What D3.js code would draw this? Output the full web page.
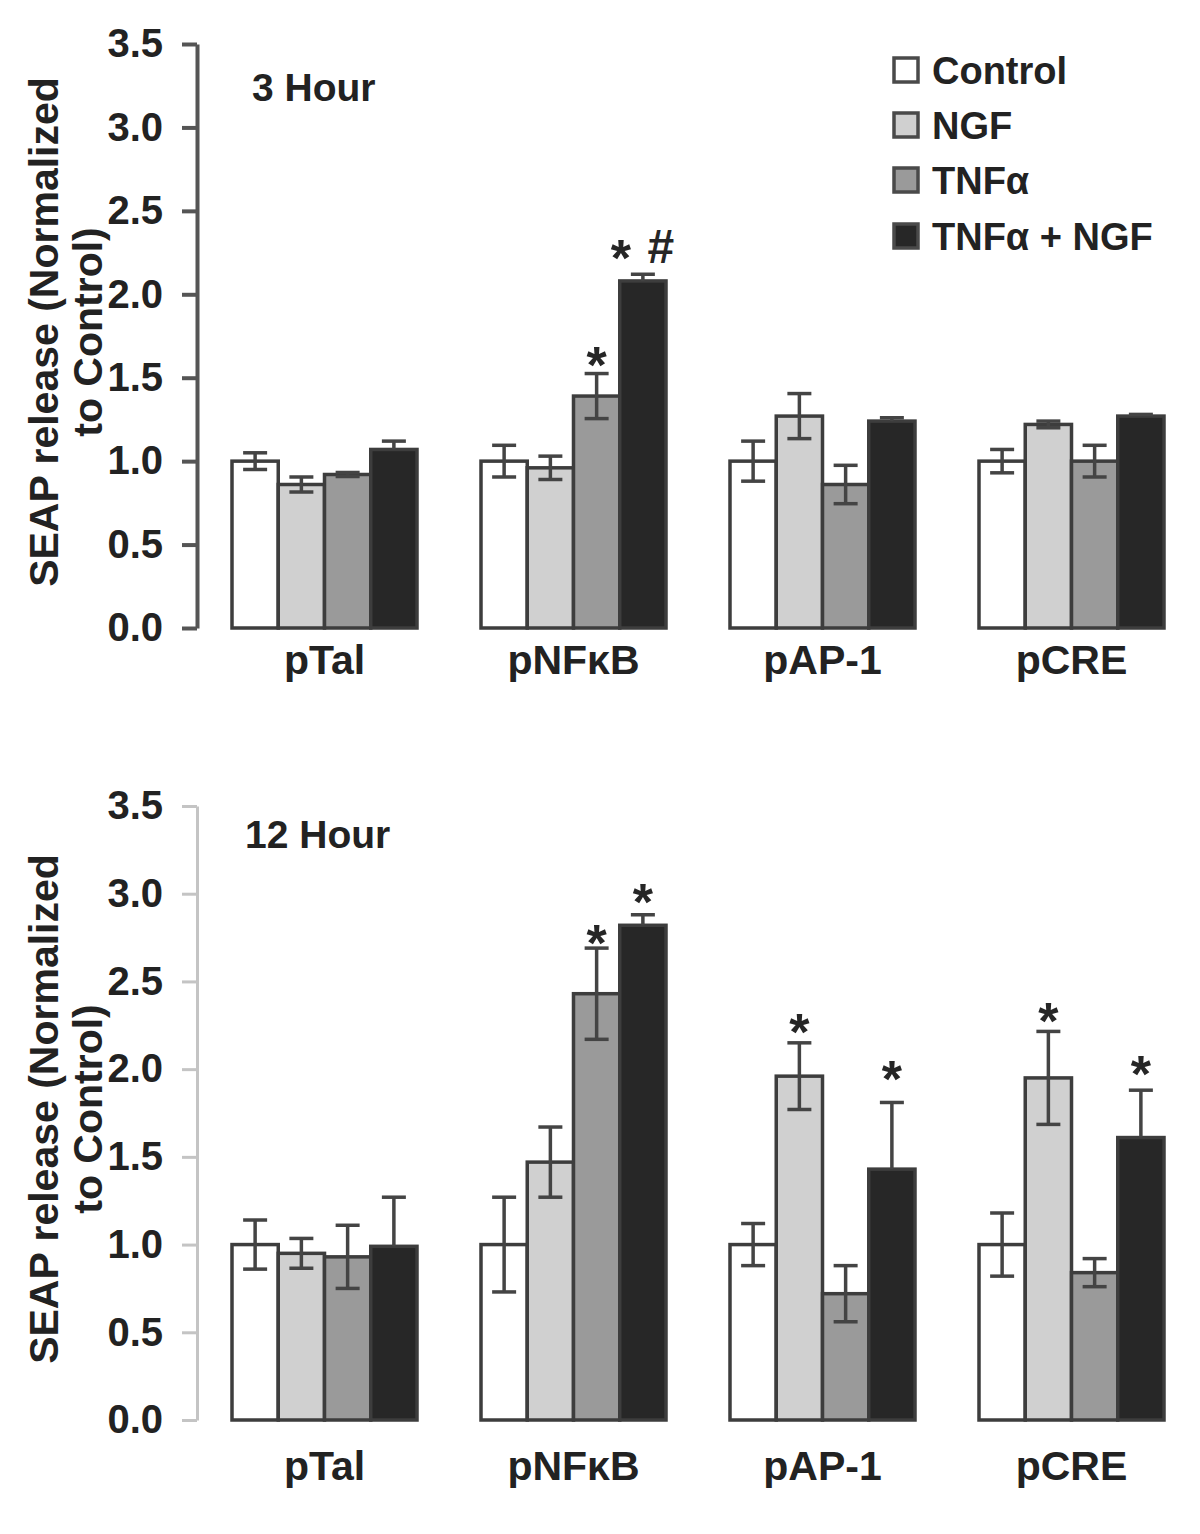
<!DOCTYPE html>
<html>
<head>
<meta charset="utf-8">
<script src="https://cdn.jsdelivr.net/npm/d3@7"></script>
<style>
  html, body { margin: 0; padding: 0; background: #fff; }
  svg { display: block; font-family: "Liberation Sans", Arial, sans-serif; font-weight: bold; }
</style>
</head>
<body>
<svg id="chart" width="1200" height="1534"></svg>
<script>
// ---------------- DATA ----------------
const categories = ["pTal", "pNFκB", "pAP-1", "pCRE"];
const seriesNames = ["Control", "NGF", "TNFα", "TNFα + NGF"];
const seriesColors = ["#ffffff", "#d0d0d0", "#9a9a9a", "#272727"];
const yTicks = [0, 0.5, 1.0, 1.5, 2.0, 2.5, 3.0, 3.5];

// 3 Hour: values per category [Control, NGF, TNFa, TNFa+NGF]
const h3Values = [
  [1.00, 0.86, 0.92, 1.07],
  [1.00, 0.96, 1.39, 2.08],
  [1.00, 1.27, 0.86, 1.24],
  [1.00, 1.22, 1.00, 1.27]
];
const h3Errors = [
  [0.05, 0.045, 0.012, 0.05],
  [0.095, 0.07, 0.135, 0.04],
  [0.12, 0.135, 0.115, 0.02],
  [0.07, 0.02, 0.095, 0.01]
];
// annotations: [category index, series index, symbols, y value of symbol centre]
const h3Marks = [
  [1, 2, ["*"], 1.65],
  [1, 3, ["*", "#"], 2.29]
];

// 12 Hour
const h12Values = [
  [1.00, 0.95, 0.93, 0.99],
  [1.00, 1.47, 2.43, 2.82],
  [1.00, 1.96, 0.72, 1.43],
  [1.00, 1.95, 0.84, 1.61]
];
const h12Errors = [
  [0.14, 0.085, 0.18, 0.28],
  [0.27, 0.20, 0.26, 0.06],
  [0.12, 0.19, 0.16, 0.38],
  [0.18, 0.265, 0.08, 0.27]
];
const h12Marks = [
  [1, 2, ["*"], 2.79],
  [1, 3, ["*"], 3.02],
  [2, 1, ["*"], 2.28],
  [2, 3, ["*"], 2.01],
  [3, 1, ["*"], 2.34],
  [3, 3, ["*"], 2.04]
];

// ---------------- DRAW ----------------
const svg = d3.select("#chart");
const textColor = "#222";

const x0 = d3.scaleBand().domain(categories).range([200, 1196])
  .paddingInner(0.257).paddingOuter(0.1285);
const x1 = d3.scaleBand().domain(seriesNames).range([0, x0.bandwidth()]).padding(0);

function panel(cfg) {
  const g = svg.append("g");
  const y = d3.scaleLinear().domain([0, 3.5]).range([cfg.y0, cfg.y35]);
  const axisX = 197;

  // axis
  const ax = g.append("g").attr("transform", `translate(${axisX},0)`)
    .call(d3.axisLeft(y).tickValues(yTicks).tickFormat(d3.format(".1f"))
      .tickSize(15).tickSizeOuter(0).tickPadding(19));
  ax.select(".domain").attr("stroke", cfg.axisColor).attr("stroke-width", cfg.axisWidth);
  ax.selectAll(".tick line").attr("stroke", cfg.axisColor).attr("stroke-width", cfg.axisWidth);
  ax.selectAll(".tick text").attr("fill", textColor)
    .style("font-size", "40px").style("font-weight", "bold")
    .style("font-family", '"Liberation Sans", Arial, sans-serif');

  // y title
  const tcy = (cfg.y0 + cfg.y35) / 2 - 4;
  const tt = g.append("text").attr("transform", `translate(58,${tcy}) rotate(-90)`)
    .attr("text-anchor", "middle").attr("fill", textColor).style("font-size", "41px");
  tt.append("tspan").attr("x", 0).attr("dy", 0).text("SEAP release (Normalized");
  tt.append("tspan").attr("x", 0).attr("dy", 44).text("to Control)");

  // panel title
  g.append("text").attr("x", cfg.titleX).attr("y", cfg.titleY)
    .attr("fill", textColor).style("font-size", "39px").text(cfg.title);

  // bars
  categories.forEach((cat, ci) => {
    const gx = x0(cat);
    const grp = g.append("g").attr("transform", `translate(${gx},0)`);
    seriesNames.forEach((s, si) => {
      const v = cfg.values[ci][si];
      grp.append("rect")
        .attr("x", x1(s)).attr("width", x1.bandwidth())
        .attr("y", y(v)).attr("height", y(0) - y(v))
        .attr("fill", seriesColors[si])
        .attr("stroke", "#3d3d3d").attr("stroke-width", 3.5);
    });
    // error bars
    seriesNames.forEach((s, si) => {
      const v = cfg.values[ci][si], e = cfg.errors[ci][si];
      const cx = x1(s) + x1.bandwidth() / 2;
      const lo = si === 3 ? v : v - e;
      const hi = v + e;
      const col = "#444";
      grp.append("line").attr("x1", cx).attr("x2", cx).attr("y1", y(lo)).attr("y2", y(hi))
        .attr("stroke", col).attr("stroke-width", 3.5);
      grp.append("line").attr("x1", cx - 12).attr("x2", cx + 12).attr("y1", y(hi)).attr("y2", y(hi))
        .attr("stroke", col).attr("stroke-width", 3.5);
      if (si !== 3) {
        grp.append("line").attr("x1", cx - 12).attr("x2", cx + 12).attr("y1", y(lo)).attr("y2", y(lo))
          .attr("stroke", col).attr("stroke-width", 3.5);
      }
    });
    // category label
    g.append("text").attr("x", gx + x0.bandwidth() / 2).attr("y", cfg.catY)
      .attr("text-anchor", "middle").attr("fill", textColor).style("font-size", "41px").text(cat);
  });

  // significance marks
  cfg.marks.forEach(([ci, si, syms, val]) => {
    const cx = x0(categories[ci]) + x1(seriesNames[si]) + x1.bandwidth() / 2;
    const n = syms.length;
    syms.forEach((sym, k) => {
      const dx = n > 1 ? (k === 0 ? -22 : 18) : 0;
      const isStar = sym === "*";
      g.append("text").attr("x", cx + dx)
        .attr("y", y(val) + (isStar ? 30 : 17))
        .attr("text-anchor", "middle").attr("fill", "#262626")
        .style("font-size", isStar ? "52px" : "48px").text(sym);
    });
  });
}

panel({
  y0: 628, y35: 44, axisColor: "#555", axisWidth: 4,
  values: h3Values, errors: h3Errors, marks: h3Marks,
  title: "3 Hour", titleX: 252, titleY: 101, catY: 674
});
panel({
  y0: 1420, y35: 806, axisColor: "#c4c4c4", axisWidth: 3,
  values: h12Values, errors: h12Errors, marks: h12Marks,
  title: "12 Hour", titleX: 245, titleY: 848, catY: 1480
});

// legend
const legend = svg.append("g");
const legendY = [70, 125, 180, 236];
seriesNames.forEach((s, i) => {
  legend.append("rect").attr("x", 894).attr("y", legendY[i] - 12).attr("width", 24).attr("height", 24)
    .attr("fill", seriesColors[i]).attr("stroke", "#4a4a4a").attr("stroke-width", 3.5);
  legend.append("text").attr("x", 932).attr("y", legendY[i] + 14)
    .attr("fill", textColor).style("font-size", "38px").text(s);
});
</script>
</body>
</html>
